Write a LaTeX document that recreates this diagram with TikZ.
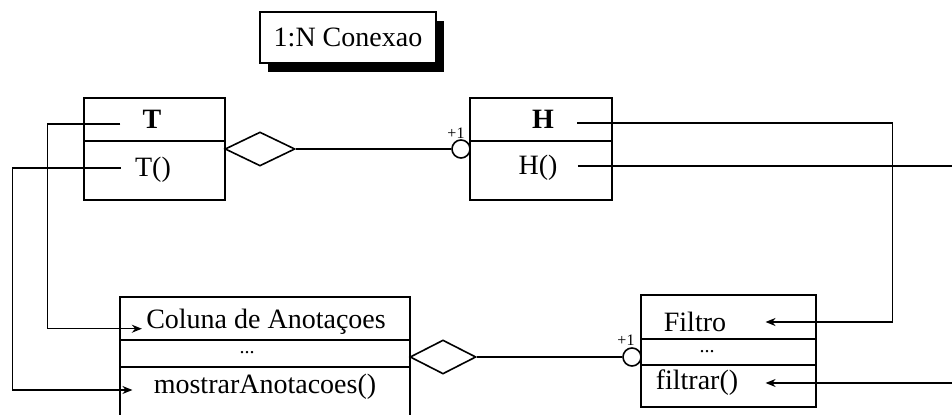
\documentclass[tikz,border=0pt]{standalone}
\usepackage{fontspec}
\setmainfont{Liberation Serif}
\usetikzlibrary{arrows.meta, shapes.geometric, shadows}

\begin{document}
\begin{tikzpicture}[
    x=0.5pt, y=-0.5pt,
    >={Stealth[length=5pt, width=4pt]},
    every node/.style={font=\fontsize{14}{16}\selectfont},
    classbox/.style={draw, line width=0.9pt, inner sep=0pt},
    row/.style={inner sep=0pt},
    bold/.style={font=\fontsize{14}{16}\selectfont\bfseries},
    dots/.style={font=\fontsize{10}{12}\selectfont},
    agg/.style={draw, diamond, line width=0.8pt, inner sep=0pt, minimum width=#1, minimum height=17pt},
    ring/.style={draw, circle, line width=0.8pt, inner sep=0pt, minimum size=9pt},
    mult/.style={font=\fontsize{8}{9}\selectfont, inner sep=0pt},
    link/.style={line width=0.7pt},
    flow/.style={line width=0.7pt, ->},
    titlebox/.style={draw, fill=white, line width=0.8pt, minimum width=88pt, minimum height=25.5pt,
        drop shadow={fill=black, opacity=1, shadow xshift=4pt, shadow yshift=-4.5pt}},
]
    \useasboundingbox (0,0) rectangle (952,415);
    \clip (0,0) rectangle (952,415);

    \node[titlebox] (title) at (348,37.5) {1:N Conexao};

    % Classes
    \node[classbox, minimum width=70.5pt, minimum height=51pt] (T) at (154.5,149) {};
    \node[classbox, minimum width=71pt, minimum height=51pt] (H) at (541,149) {};
    \node[classbox, minimum width=145pt, minimum height=60.5pt] (col) at (265,357.5) {};
    \node[classbox, minimum width=87.5pt, minimum height=56pt] (filtro) at (728.5,351) {};

    % Compartments
    \draw[line width=0.9pt] (T.west |- 0,141) -- (T.east |- 0,141);
    \draw[line width=0.9pt] (H.west |- 0,141) -- (H.east |- 0,141);
    \draw[line width=0.9pt] (col.west |- 0,340) -- (col.east |- 0,340);
    \draw[line width=0.9pt] (col.west |- 0,367) -- (col.east |- 0,367);
    \draw[line width=0.9pt] (filtro.west |- 0,339) -- (filtro.east |- 0,339);
    \draw[line width=0.9pt] (filtro.west |- 0,365) -- (filtro.east |- 0,365);

    \node[row, bold] (tT) at (152,119) {T};
    \node[row] (tTm) at (153,170) {T()};
    \node[row, bold] (tH) at (543,119) {H};
    \node[row] (tHm) at (538,168) {H()};
    \node[row] (cA) at (266,322) {Coluna de Anotaçoes};
    \node[row, dots] (cD) at (247,353) {...};
    \node[row] (mA) at (265,387) {mostrarAnotacoes()};
    \node[row] (fF) at (695,322) {Filtro};
    \node[row, dots] (fD) at (707,352) {...};
    \node[row] (fM) at (697,383) {filtrar()};

    % Aggregations
    \node[agg=35pt] (dT) at (260,149) {};
    \node[ring] (cT) at (461,149) {};
    \node[mult] (mT) at (456,133) {+1};
    \node[agg=33pt] (dC) at (443,357) {};
    \node[ring] (cF) at (632,357) {};
    \node[mult] (mF) at (626,340) {+1};

    \draw[link] (dT) -- (cT);
    \draw[link] (dC) -- (cF);

    % Calls
    \draw[flow] ([xshift=-11pt, yshift=-2.5pt]tT.west) -- ++(-73,0) |- ([xshift=-2pt]cA.base west);
    \draw[flow] ([xshift=-7pt, yshift=1pt]tTm.west) -- ++(-108,0) |- ([xshift=-10.5pt, yshift=-1.5pt]mA.west);
    \draw[flow] ([xshift=11.5pt, yshift=-2pt]tH.east) -- ++(315,0) |- ([xshift=19.5pt]fF.east);
    \draw[flow] ([xshift=10pt, yshift=1pt]tHm.east) -- ++(400,0) |- ([xshift=13.5pt]fM.east);
\end{tikzpicture}
\end{document}
